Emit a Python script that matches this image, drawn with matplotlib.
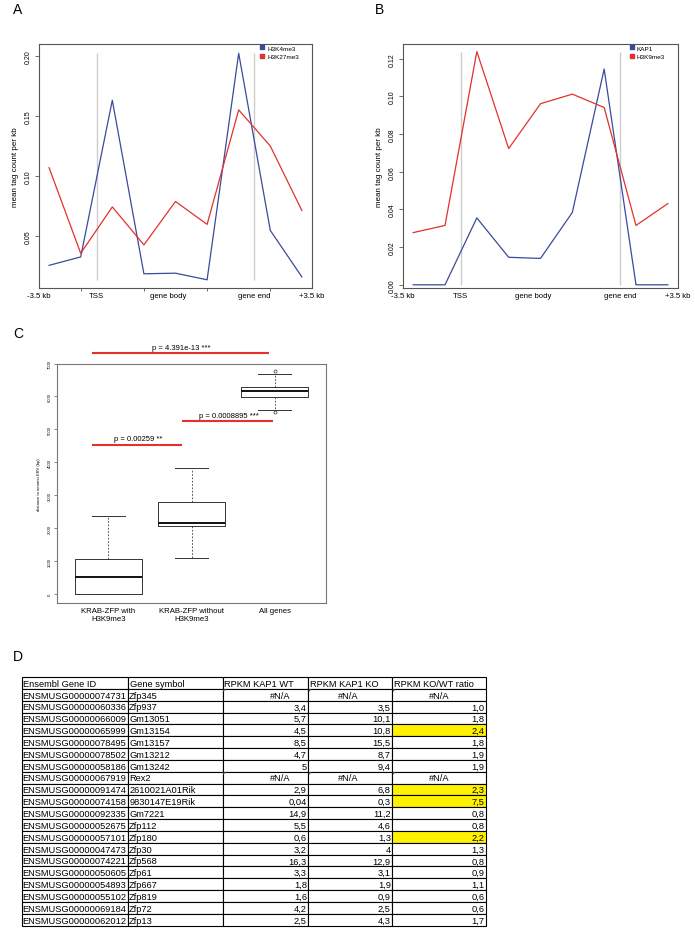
import matplotlib
matplotlib.use('Agg')
import matplotlib.pyplot as plt
import numpy as np
from matplotlib.lines import Line2D
from matplotlib.patches import Rectangle, Polygon

plt.rcParams['font.family'] = ['Liberation Sans', 'DejaVu Sans']

# ---------------- data ----------------
bins = list(range(9))
region_labels = ['-3.5 kb', 'TSS', 'gene body', 'gene end', '+3.5 kb']
region_pos = [-0.32, 1.5, 3.77, 6.5, 8.32]
boundaries = [1.5, 6.5]

h3k4me3 = [0.026, 0.033, 0.163, 0.019, 0.0195, 0.014, 0.202, 0.055, 0.0164]
h3k27me3 = [0.107, 0.036, 0.0745, 0.043, 0.079, 0.060, 0.155, 0.125, 0.0715]
kap1 = [0.0, 0.0, 0.0355, 0.0146, 0.014, 0.0384, 0.1145, 0.0, 0.0]
h3k9me3 = [0.0277, 0.0315, 0.1238, 0.0723, 0.0961, 0.1012, 0.0941, 0.0315, 0.0431]

box_groups = ['KRAB-ZFP with\nH3K9me3', 'KRAB-ZFP without\nH3K9me3', 'All genes']
box_whislo = [0, 1094, 5592]
box_q1 = [0, 2067, 5987]
box_med = [506, 2148, 6180]
box_q3 = [1074, 2796, 6281]
box_whishi = [2360, 3829, 6686]
box_fliers = [[], [], [6787, 5541]]

pval_text = ['p = 4.391e-13 ***', 'p = 0.0008895 ***', 'p = 0.00259 **']
pval_x0 = [0.80, 1.88, 0.80]
pval_x1 = [2.93, 2.98, 1.88]
pval_y = [7312, 5254, 4540]

table_header = ['Ensembl Gene ID', 'Gene symbol', 'RPKM KAP1 WT', 'RPKM KAP1 KO', 'RPKM KO/WT ratio']
ensembl_ids = ['ENSMUSG00000074731', 'ENSMUSG00000060336', 'ENSMUSG00000066009', 'ENSMUSG00000065999',
               'ENSMUSG00000078495', 'ENSMUSG00000078502', 'ENSMUSG00000058186', 'ENSMUSG00000067919',
               'ENSMUSG00000091474', 'ENSMUSG00000074158', 'ENSMUSG00000092335', 'ENSMUSG00000052675',
               'ENSMUSG00000057101', 'ENSMUSG00000047473', 'ENSMUSG00000074221', 'ENSMUSG00000050605',
               'ENSMUSG00000054893', 'ENSMUSG00000055102', 'ENSMUSG00000069184', 'ENSMUSG00000062012']
gene_symbols = ['Zfp345', 'Zfp937', 'Gm13051', 'Gm13154', 'Gm13157', 'Gm13212', 'Gm13242', 'Rex2',
                '2610021A01Rik', '9830147E19Rik', 'Gm7221', 'Zfp112', 'Zfp180', 'Zfp30', 'Zfp568',
                'Zfp61', 'Zfp667', 'Zfp819', 'Zfp72', 'Zfp13']
rpkm_wt = ['#N/A', '3,4', '5,7', '4,5', '8,5', '4,7', '5', '#N/A', '2,9', '0,04', '14,9', '5,5', '0,6',
           '3,2', '16,3', '3,3', '1,8', '1,6', '4,2', '2,5']
rpkm_ko = ['#N/A', '3,5', '10,1', '10,8', '15,5', '8,7', '9,4', '#N/A', '6,8', '0,3', '11,2', '4,6', '1,3',
           '4', '12,9', '3,1', '1,9', '0,9', '2,5', '4,3']
ratio = ['#N/A', '1,0', '1,8', '2,4', '1,8', '1,9', '1,9', '#N/A', '2,3', '7,5', '0,8', '0,8', '2,2',
         '1,3', '0,8', '0,9', '1,1', '0,6', '0,6', '1,7']
highlight = [False, False, False, True, False, False, False, False, True, True, False, False, True,
             False, False, False, False, False, False, False]

# ---------------- style ----------------
W, H = 695, 929
BLUE = '#3b4a9a'
RED = '#e2322b'
FRAME = '#555555'

fig = plt.figure(figsize=(W / 100, H / 100), dpi=100)


def rect(l, t, r, b):
    return [l / W, 1 - b / H, (r - l) / W, (b - t) / H]


def profile(ax, s1, s2, names, yticks, ylim, with_ticks, leg_x):
    lo = min(min(s1), min(s2))
    hi = max(max(s1), max(s2))
    ax.vlines(boundaries, lo, hi, color='#cccccc', lw=1.0, zorder=1)
    ax.plot(bins, s1, color=BLUE, lw=0.9, zorder=2)
    ax.plot(bins, s2, color=RED, lw=0.9, zorder=2)
    ax.set_xlim(-0.32, 8.32)
    ax.set_ylim(*ylim)
    ax.set_yticks(yticks)
    ax.set_yticklabels([f'{v:.2f}' for v in yticks], rotation=90, va='center', fontsize=5)
    ax.tick_params(axis='y', length=3, width=0.6, color=FRAME, pad=2.5)
    ax.set_xticks(region_pos)
    ax.set_xticklabels(region_labels, fontsize=5.6)
    ax.tick_params(axis='x', length=0, pad=3)
    if with_ticks:
        ax.set_xticks([1, 3, 5, 7], minor=True)
        ax.tick_params(axis='x', which='minor', length=2.5, width=0.6, color=FRAME)
    for sp in ax.spines.values():
        sp.set_color(FRAME)
        sp.set_linewidth(0.8)
    ax.set_ylabel('mean tag count per kb', fontsize=5.8, labelpad=4)
    handles = [Line2D([], [], marker='s', ls='', color=BLUE, ms=2.2),
               Line2D([], [], marker='s', ls='', color=RED, ms=2.2)]
    ax.legend(handles, names, loc='upper left', bbox_to_anchor=(leg_x, 0.995), frameon=False,
              fontsize=4.6, handlelength=0.6, handletextpad=0.5, labelspacing=0.5,
              borderaxespad=0, borderpad=0)


axA = fig.add_axes(rect(39, 45, 312, 289))
profile(axA, h3k4me3, h3k27me3, ['H3K4me3', 'H3K27me3'], [0.05, 0.10, 0.15, 0.20],
        (0.0072, 0.2097), True, 0.81)
axB = fig.add_axes(rect(403, 45, 678, 289))
profile(axB, kap1, h3k9me3, ['KAP1', 'H3K9me3'], [0.00, 0.02, 0.04, 0.06, 0.08, 0.10, 0.12],
        (-0.0017, 0.1278), False, 0.825)

# ---------------- panel C ----------------
axC = fig.add_axes(rect(57, 364.5, 326, 604))
stats = []
for i in range(3):
    stats.append(dict(med=box_med[i], q1=box_q1[i], q3=box_q3[i], whislo=box_whislo[i],
                      whishi=box_whishi[i], fliers=box_fliers[i]))
axC.bxp(stats, positions=[1, 2, 3], widths=0.8, capwidths=0.4, showfliers=True,
        boxprops=dict(color='#333333', lw=0.7),
        medianprops=dict(color='#111111', lw=1.4),
        whiskerprops=dict(color='#333333', lw=0.6, ls=(0, (2, 2))),
        capprops=dict(color='#333333', lw=0.7),
        flierprops=dict(marker='o', mfc='none', mec='#333333', ms=2.2, mew=0.5))
axC.set_xlim(0.38, 3.62)
axC.set_ylim(-272, 7000)
axC.set_yticks(range(0, 7001, 1000))
axC.set_yticklabels([str(v) for v in range(0, 7001, 1000)], rotation=90, va='center', fontsize=3)
axC.tick_params(axis='y', length=2.4, width=0.5, color=FRAME, pad=1.5)
axC.set_xticks([1, 2, 3])
axC.set_xticklabels(box_groups, fontsize=5.6, linespacing=1.15)
axC.tick_params(axis='x', length=0, pad=3)
for sp in axC.spines.values():
    sp.set_color('#777777')
    sp.set_linewidth(0.8)
axC.set_ylabel('distance to nearest ERV (bp)', fontsize=3, labelpad=5)
for txt, x0, x1, y in zip(pval_text, pval_x0, pval_x1, pval_y):
    axC.plot([x0, x1], [y, y], color=RED, lw=1.5, clip_on=False, solid_capstyle='butt')
    axC.annotate(txt, xy=((x0 + x1) / 2, y), xytext=(1, 4.2), textcoords='offset points',
                 ha='center', va='center', fontsize=5.5, annotation_clip=False)

# ---------------- panel D (table) ----------------
col_edges = [21.7, 128.3, 222.7, 308.3, 392.3, 486.0]
na_frac = [0.5, 0.5, 0.67, 0.47, 0.5]
top, bottom = 678.0, 926.7
columns = [ensembl_ids, gene_symbols, rpkm_wt, rpkm_ko, ratio]
nrows = len(ensembl_ids) + 1
rh = (bottom - top) / nrows
FS = 6.7

axD = fig.add_axes(rect(0, 0, W, H))
axD.set_xlim(0, W)
axD.set_ylim(H, 0)
axD.axis('off')

for r in range(nrows):
    y0 = top + r * rh
    for c in range(5):
        x0, x1 = col_edges[c], col_edges[c + 1]
        fc = 'white'
        if r > 0 and c == 4 and highlight[r - 1]:
            fc = '#fff200'
        axD.add_patch(Rectangle((x0, y0), x1 - x0, rh, facecolor=fc, edgecolor='black', lw=0.8))
        if r == 0:
            axD.text(x0 + 1.2, y0 + rh / 2 + 0.3, table_header[c], ha='left', va='center', fontsize=FS)
            continue
        val = columns[c][r - 1]
        if c < 2:
            axD.text(x0 + 0.9, y0 + rh / 2 + 0.3, val, ha='left', va='center', fontsize=FS)
        elif val == '#N/A':
            axD.text(x0 + (x1 - x0) * na_frac[c], y0 + rh / 2 + 0.3, val, ha='center', va='center',
                     fontsize=FS)
            axD.add_patch(Polygon([(x0 + 0.6, y0 + 0.6), (x0 + 3.2, y0 + 0.6), (x0 + 0.6, y0 + 3.2)],
                                  closed=True, facecolor='#1f8a3a', edgecolor='none'))
        else:
            axD.text(x1 - 1.5, y0 + rh / 2 + 0.3, val, ha='right', va='center', fontsize=FS)

# ---------------- panel letters ----------------
for letter, x, y in [('A', 12.5, 9.5), ('B', 375, 9.5), ('C', 13, 334), ('D', 13, 657)]:
    fig.text(x / W, 1 - y / H, letter, fontsize=10, ha='left', va='center')

fig.savefig('out.png', dpi=100)
